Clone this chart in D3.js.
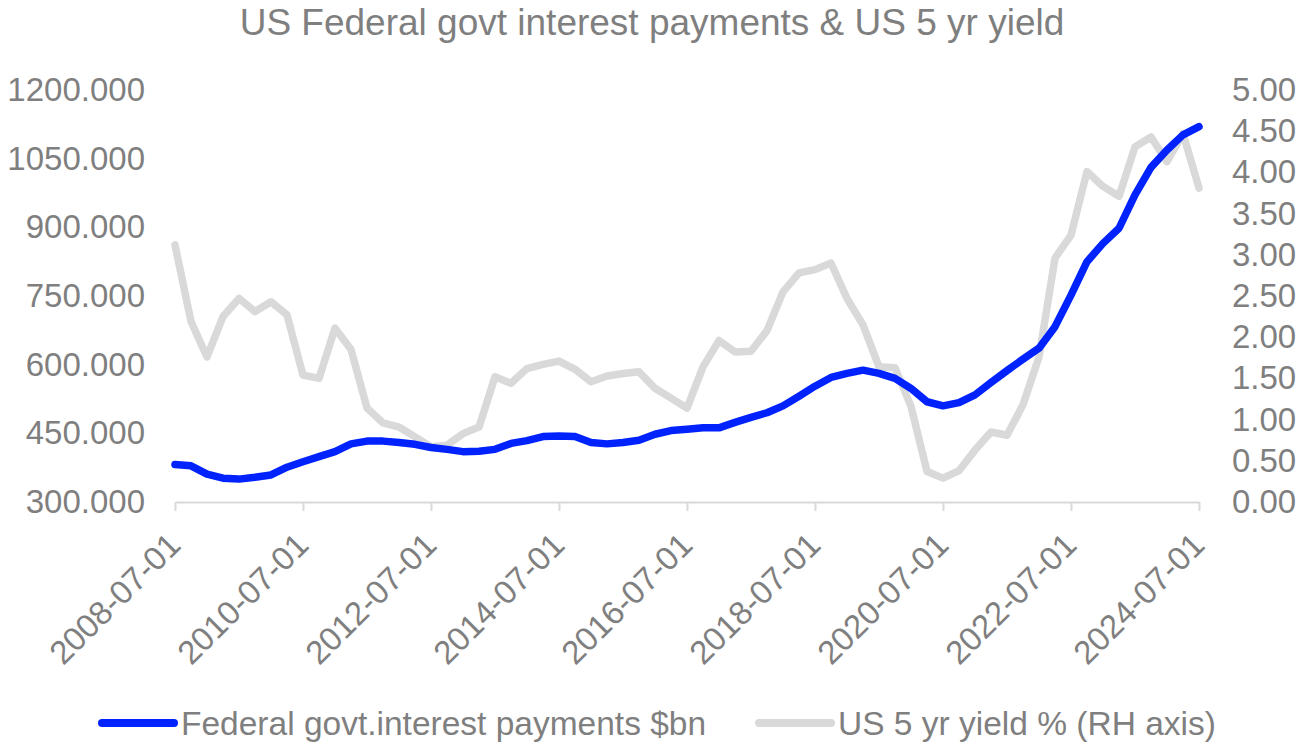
<!DOCTYPE html>
<html lang="en">
<head>
  <meta charset="UTF-8">
  <title>US Federal govt interest payments & US 5 yr yield</title>
  <style>
    body {
      margin: 0;
      background: #ffffff;
      font-family: "Liberation Sans", Arial, sans-serif;
    }
    text {
      fill: #7f7f7f;
    }
    .axis path, .axis line {
      stroke: #d9d9d9;
      stroke-width: 2px;
    }
  </style>
</head>
<body>
<svg id="chart" width="1309" height="744"></svg>
<script src="https://cdnjs.cloudflare.com/ajax/libs/d3/7.8.5/d3.min.js"></script>
<script>
var quarters = [
  "2008-07-01","2008-10-01","2009-01-01","2009-04-01","2009-07-01","2009-10-01","2010-01-01","2010-04-01",
  "2010-07-01","2010-10-01","2011-01-01","2011-04-01","2011-07-01","2011-10-01","2012-01-01","2012-04-01",
  "2012-07-01","2012-10-01","2013-01-01","2013-04-01","2013-07-01","2013-10-01","2014-01-01","2014-04-01",
  "2014-07-01","2014-10-01","2015-01-01","2015-04-01","2015-07-01","2015-10-01","2016-01-01","2016-04-01",
  "2016-07-01","2016-10-01","2017-01-01","2017-04-01","2017-07-01","2017-10-01","2018-01-01","2018-04-01",
  "2018-07-01","2018-10-01","2019-01-01","2019-04-01","2019-07-01","2019-10-01","2020-01-01","2020-04-01",
  "2020-07-01","2020-10-01","2021-01-01","2021-04-01","2021-07-01","2021-10-01","2022-01-01","2022-04-01",
  "2022-07-01","2022-10-01","2023-01-01","2023-04-01","2023-07-01","2023-10-01","2024-01-01","2024-04-01",
  "2024-07-01"
];

// $bn, left axis
var interest = [
  382, 379, 361, 352, 350, 354, 359, 376,
  388, 399, 410, 427, 433, 433, 430, 426,
  419, 415, 410, 411, 415, 428, 434, 443,
  444, 443, 430, 427, 430, 435, 448, 456,
  459, 462, 462, 474, 485, 495, 510, 531,
  553, 572, 581, 588, 581, 570, 548, 519,
  510, 517, 534, 561, 587, 612, 636, 683,
  752, 825, 865, 898, 971, 1031, 1069, 1102,
  1120
];

// %, right axis
var yield5 = [
  3.12, 2.19, 1.76, 2.25, 2.47, 2.31, 2.43, 2.27,
  1.54, 1.50, 2.11, 1.85, 1.14, 0.96, 0.91, 0.79,
  0.67, 0.69, 0.83, 0.91, 1.52, 1.44, 1.62, 1.67,
  1.71, 1.61, 1.46, 1.53, 1.56, 1.58, 1.38, 1.26,
  1.14, 1.64, 1.96, 1.82, 1.83, 2.08, 2.55, 2.78,
  2.82, 2.90, 2.47, 2.15, 1.64, 1.63, 1.16, 0.37,
  0.29, 0.38, 0.63, 0.85, 0.81, 1.18, 1.76, 2.96,
  3.24, 4.01, 3.83, 3.71, 4.31, 4.43, 4.13, 4.47,
  3.81
];

var xTickLabels = ["2008-07-01","2010-07-01","2012-07-01","2014-07-01","2016-07-01",
                   "2018-07-01","2020-07-01","2022-07-01","2024-07-01"];
var leftTicks = [300, 450, 600, 750, 900, 1050, 1200];
var rightTicks = [0, 0.5, 1, 1.5, 2, 2.5, 3, 3.5, 4, 4.5, 5];

var seriesNames = ["Federal govt.interest payments $bn", "US 5 yr yield % (RH axis)"];
var seriesColors = ["#0022ff", "#d9d9d9"];

var svg = d3.select("#chart");
var plotLeft = 175, plotRight = 1199, plotTop = 90, plotBottom = 502;

var x = d3.scalePoint().domain(quarters).range([plotLeft, plotRight]);
var yL = d3.scaleLinear().domain([300, 1200]).range([plotBottom, plotTop]);
var yR = d3.scaleLinear().domain([0, 5]).range([plotBottom, plotTop]);

// title
svg.append("text")
  .attr("x", 652)
  .attr("y", 35)
  .attr("text-anchor", "middle")
  .style("font-size", "37px")
  .text("US Federal govt interest payments & US 5 yr yield");

// x axis
var xAxis = svg.append("g")
  .attr("class", "axis")
  .attr("transform", "translate(0," + plotBottom + ")")
  .call(d3.axisBottom(x).tickValues(xTickLabels).tickSize(9).tickSizeOuter(0));
xAxis.selectAll("text")
  .style("font-size", "33px")
  .attr("text-anchor", "end")
  .attr("dy", null)
  .attr("y", 0)
  .attr("transform", "translate(7,45) rotate(-45)");

// left axis
var lAxis = svg.append("g")
  .attr("transform", "translate(145,0)")
  .call(d3.axisLeft(yL).tickValues(leftTicks).tickSize(0).tickFormat(d3.format(".3f")));
lAxis.select(".domain").remove();
lAxis.selectAll("text").style("font-size", "33px").attr("x", 0);

// right axis
var rAxis = svg.append("g")
  .attr("transform", "translate(1232,0)")
  .call(d3.axisRight(yR).tickValues(rightTicks).tickSize(0).tickFormat(d3.format(".2f")));
rAxis.select(".domain").remove();
rAxis.selectAll("text").style("font-size", "33px").attr("x", 0);

// lines
var yieldLine = d3.line()
  .x(function(d, i) { return x(quarters[i]); })
  .y(function(d) { return yR(d); });
var interestLine = d3.line()
  .x(function(d, i) { return x(quarters[i]); })
  .y(function(d) { return yL(d); });

svg.append("path")
  .datum(yield5)
  .attr("d", yieldLine)
  .attr("fill", "none")
  .attr("stroke", seriesColors[1])
  .attr("stroke-width", 7.5)
  .attr("stroke-linejoin", "round")
  .attr("stroke-linecap", "round");

svg.append("path")
  .datum(interest)
  .attr("d", interestLine)
  .attr("fill", "none")
  .attr("stroke", seriesColors[0])
  .attr("stroke-width", 7.5)
  .attr("stroke-linejoin", "round")
  .attr("stroke-linecap", "round");

// legend
var legendX = [102, 759];
var legend = svg.selectAll(".legend")
  .data(seriesNames)
  .enter().append("g")
  .attr("class", "legend")
  .attr("transform", function(d, i) { return "translate(" + legendX[i] + ",0)"; });
legend.append("line")
  .attr("x1", 0).attr("x2", 72)
  .attr("y1", 723).attr("y2", 723)
  .attr("stroke", function(d, i) { return seriesColors[i]; })
  .attr("stroke-width", 8)
  .attr("stroke-linecap", "round");
legend.append("text")
  .attr("x", 79)
  .attr("y", 735)
  .style("font-size", "33.5px")
  .text(function(d) { return d; });
</script>
</body>
</html>
